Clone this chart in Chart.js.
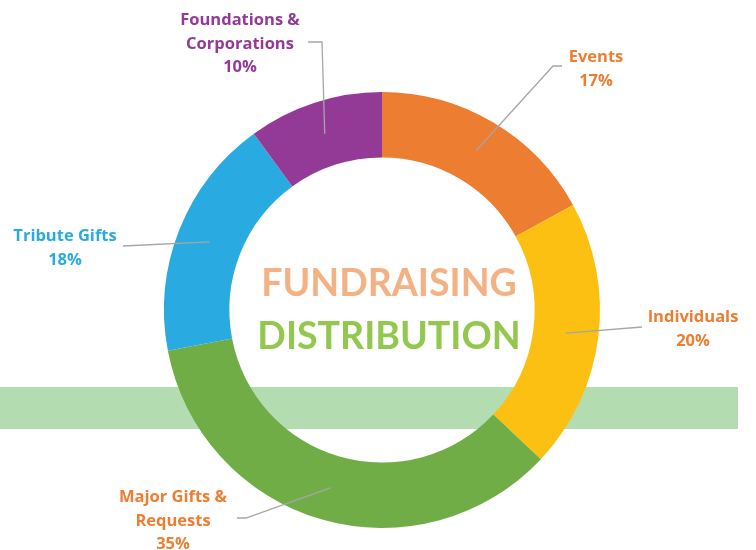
<!DOCTYPE html>
<html>
<head>
<meta charset="utf-8">
<script src="https://cdn.jsdelivr.net/npm/chart.js@4/dist/chart.umd.min.js"></script>
<style>
  html, body { margin: 0; padding: 0; background: #fff; }
  canvas { display: block; }
</style>
</head>
<body>
<canvas id="fundChart" width="756" height="550"></canvas>
<script>
// data
const categories = ['Events', 'Individuals', 'Major Gifts & Requests', 'Tribute Gifts', 'Foundations & Corporations'];
const shares = [17, 20, 35, 18, 10];
const sliceColors = ['#ED7D31', '#FCC013', '#70AD47', '#29ABE2', '#933A96'];
const labelColors = ['#ED7D31', '#ED7D31', '#ED7D31', '#29ABE2', '#933A96'];
const labelLines = [['Events'], ['Individuals'], ['Major Gifts &', 'Requests'], ['Tribute Gifts'], ['Foundations &', 'Corporations']];

// label placement: text centre x, first baseline, leader end points
const labelLayout = [
    { x: 596, y: 62, leader: [[553, 66], [562, 66]] },
    { x: 693, y: 322, leader: [[642, 327]] },
    { x: 173, y: 502, leader: [[246, 518], [237, 518]] },
    { x: 65, y: 241, leader: [[123, 246]] },
    { x: 240, y: 25, leader: [[322, 42], [308, 42]] },
];

const backdrop = {
    id: 'backdrop',
    beforeDraw(chart) {
        const c = chart.ctx;
        c.save();
        c.fillStyle = '#B3DCB1';
        c.fillRect(0, 387, 738, 42);
        c.restore();
    }
};

const labelsPlugin = {
    id: 'sliceLabels',
    afterDraw(chart) {
        const c = chart.ctx;
        const arcs = chart.getDatasetMeta(0).data;
        c.save();
        // leader lines
        c.strokeStyle = '#A6A6A6';
        c.lineWidth = 1.3;
        arcs.forEach((arc, i) => {
            const p = arc.tooltipPosition();
            c.beginPath();
            c.moveTo(p.x, p.y);
            labelLayout[i].leader.forEach(pt => c.lineTo(pt[0], pt[1]));
            c.stroke();
        });
        // label text
        c.textAlign = 'center';
        c.textBaseline = 'alphabetic';
        c.font = 'bold 16.5px "Open Sans", Lato, sans-serif';
        arcs.forEach((arc, i) => {
            const lay = labelLayout[i];
            const lines = labelLines[i].concat([shares[i] + '%']);
            c.fillStyle = labelColors[i];
            lines.forEach((t, k) => c.fillText(t, lay.x, lay.y + k * 23.5));
        });
        // centre title
        const cx = (chart.chartArea.left + chart.chartArea.right) / 2 + 7;
        c.font = 'bold 37.5px Lato, "Open Sans", sans-serif';
        c.fillStyle = '#F4B183';
        c.fillText('FUNDRAISING', cx, 296);
        c.fillStyle = '#92C84E';
        c.fillText('DISTRIBUTION', cx, 349);
        c.restore();
    }
};

new Chart(document.getElementById('fundChart'), {
    type: 'doughnut',
    data: {
        labels: categories,
        datasets: [{
            data: shares,
            backgroundColor: sliceColors,
            borderWidth: 0,
        }]
    },
    options: {
        responsive: false,
        animation: false,
        cutout: '70%',
        layout: { padding: { top: 92, bottom: 22, left: 164, right: 156 } },
        plugins: {
            legend: { display: false },
            tooltip: { enabled: false }
        }
    },
    plugins: [backdrop, labelsPlugin]
});
</script>
</body>
</html>
